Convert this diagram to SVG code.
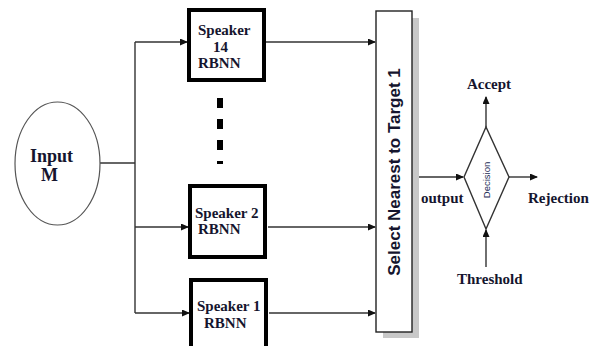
<svg xmlns="http://www.w3.org/2000/svg" width="592" height="346" viewBox="0 0 592 346">
<defs>
<marker id="ah" markerWidth="8" markerHeight="7" refX="7" refY="3.5" orient="auto" markerUnits="userSpaceOnUse">
<path d="M0,0 L8,3.5 L0,7 z" fill="#111"/>
</marker>
</defs>
<style>
.t{font-family:"Liberation Serif","Times New Roman",serif;font-weight:bold;font-size:15px;fill:#15152e}
.box{fill:#fff;stroke:#000;stroke-width:4}
.c{fill:none;stroke:#333;stroke-width:1.4}
</style>
<rect width="592" height="346" fill="#fff"/>
<g id="connectors">
<path class="c" d="M100,163 H135"/>
<path class="c" d="M135,42 V313"/>
<path class="c" d="M135,42 H187" marker-end="url(#ah)"/>
<path class="c" d="M135,227 H188" marker-end="url(#ah)"/>
<path class="c" d="M135,313 H189" marker-end="url(#ah)"/>
<path class="c" d="M266,42 H375" marker-end="url(#ah)"/>
<path class="c" d="M268,227 H375" marker-end="url(#ah)"/>
<path class="c" d="M269,313 H375" marker-end="url(#ah)"/>
<path class="c" d="M412,177 H463" marker-end="url(#ah)"/>
<path class="c" d="M486,127 V97" marker-end="url(#ah)"/>
<path class="c" d="M509,177 H537" marker-end="url(#ah)"/>
<path class="c" d="M486,267 V230" marker-end="url(#ah)"/>
<path d="M220,98 V164" stroke="#000" stroke-width="6" stroke-dasharray="10,11" fill="none"/>
</g>
<g id="input">
<ellipse cx="57.5" cy="163.5" rx="42.5" ry="61.5" fill="#fff" stroke="#555" stroke-width="1.2"/>
<text class="t" x="51.5" y="162" text-anchor="middle" style="font-size:18px">Input</text>
<text class="t" x="49.5" y="181" text-anchor="middle" style="font-size:18px">M</text>
</g>
<g id="speaker14">
<rect class="box" x="189" y="10" width="75" height="70"/>
<text class="t" x="198" y="35">Speaker</text>
<text class="t" x="213" y="52">14</text>
<text class="t" x="198" y="68">RBNN</text>
</g>
<g id="speaker2">
<rect class="box" x="190" y="186" width="75" height="71"/>
<text class="t" x="195" y="218">Speaker 2</text>
<text class="t" x="198" y="234">RBNN</text>
</g>
<g id="speaker1">
<rect class="box" x="191" y="280" width="75" height="75"/>
<text class="t" x="197" y="311">Speaker 1</text>
<text class="t" x="204" y="328">RBNN</text>
</g>
<g id="select">
<rect x="383" y="18" width="36" height="320" fill="#c8c8c8"/>
<rect x="376" y="11" width="36" height="321" fill="#fff" stroke="#222" stroke-width="1.4"/>
<text x="0" y="0" transform="translate(400,172) rotate(-90)" text-anchor="middle" font-family="Liberation Sans, Arial, sans-serif" font-weight="bold" font-size="17" fill="#15152e">Select Nearest to Target 1</text>
</g>
<g id="decision">
<path d="M464,177 L486,127 L509,177 L486,229 Z" fill="#fff" stroke="#333" stroke-width="1.4"/>
<text x="0" y="0" transform="translate(489.5,180) rotate(-90)" text-anchor="middle" font-family="Liberation Sans, Arial, sans-serif" font-size="9.5" fill="#1a2a55">Decision</text>
</g>
<g id="labels">
<text class="t" x="489" y="89" text-anchor="middle">Accept</text>
<text class="t" x="421" y="203">output</text>
<text class="t" x="528" y="203">Rejection</text>
<text class="t" x="457" y="284">Threshold</text>
</g>
</svg>
